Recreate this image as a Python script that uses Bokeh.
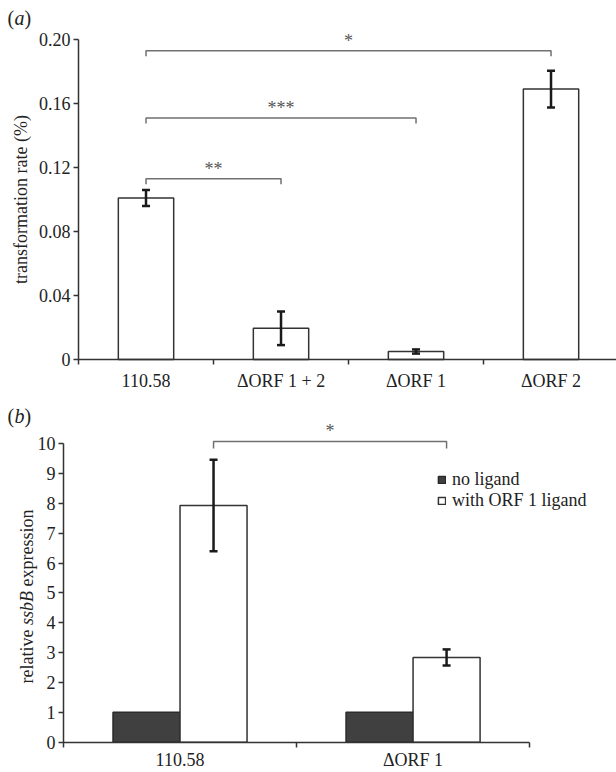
import math
from bokeh.plotting import figure
from bokeh.models import (ColumnDataSource, FixedTicker, Range1d, Whisker, TeeHead,
                          Label, Legend, LegendItem)
from bokeh.layouts import column
from bokeh.embed import file_html
from bokeh.resources import INLINE
from bokeh.core.properties import value

# ---------------- data: panel (a) ----------------
strains_a = ["110.58", "ΔORF 1 + 2", "ΔORF 1", "ΔORF 2"]
rate_a = [0.101, 0.0195, 0.005, 0.169]
err_a = [0.005, 0.0105, 0.0013, 0.0115]
yticks_a = [0, 0.04, 0.08, 0.12, 0.16, 0.20]
ytick_labels_a = ["0", "0.04", "0.08", "0.12", "0.16", "0.20"]
sig_from_a = [0, 0, 0]
sig_to_a = [1, 2, 3]
sig_y_a = [0.113, 0.151, 0.193]
sig_text_a = ["**", "***", "*"]

# ---------------- data: panel (b) ----------------
strains_b = ["110.58", "ΔORF 1"]
no_ligand = [1.0, 1.0]
with_ligand = [7.93, 2.84]
with_ligand_err = [1.535, 0.27]
yticks_b = [0, 1, 2, 3, 4, 5, 6, 7, 8, 9, 10]
series_b = ["no ligand", "with ORF 1 ligand"]
sig_from_b = [0]
sig_to_b = [1]
sig_y_b = [10.08]
sig_text_b = ["*"]

FONT = "Liberation Serif, serif"
TXT = "#222222"
AX = "#333333"
BR = "#707070"


def make_fig(w, h, xr, yr):
    p = figure(width=w, height=h, x_range=Range1d(*xr), y_range=Range1d(*yr),
               output_backend="svg", toolbar_location=None,
               min_border=0, min_border_left=0, min_border_right=0,
               min_border_top=0, min_border_bottom=0)
    p.xgrid.visible = False
    p.ygrid.visible = False
    p.outline_line_color = None
    p.background_fill_color = "white"
    p.border_fill_color = "white"
    for ax in p.axis:
        ax.fixed_location = 0
        ax.axis_line_color = AX
        ax.axis_line_width = 1.5
        ax.major_label_text_font = FONT
        ax.major_label_text_font_size = "18px"
        ax.major_label_text_color = TXT
        ax.axis_label_text_font = FONT
        ax.axis_label_text_font_size = "18px"
        ax.axis_label_text_font_style = "normal"
        ax.axis_label_text_color = TXT
        ax.major_tick_line_color = AX
        ax.major_tick_line_width = 1.5
        ax.minor_tick_line_color = AX
        ax.minor_tick_line_width = 1.5
    return p


def cat_axis(ax, n, labels, standoff, end):
    centers = [i + 0.5 for i in range(n)]
    ax.ticker = FixedTicker(ticks=centers, minor_ticks=list(range(n + 1)))
    ax.major_label_overrides = {c: l for c, l in zip(centers, labels)}
    ax.major_tick_out = 0
    ax.major_tick_in = 0
    ax.minor_tick_out = 5
    ax.minor_tick_in = 0
    ax.major_label_standoff = standoff
    ax.bounds = (0, end)


def val_axis(ax, ticks, labels, top):
    ax.ticker = FixedTicker(ticks=ticks, minor_ticks=[])
    ax.major_label_overrides = {t: l for t, l in zip(ticks, labels)}
    ax.major_tick_out = 5
    ax.major_tick_in = 0
    ax.minor_tick_out = 0
    ax.minor_tick_in = 0
    ax.major_label_standoff = 3
    ax.bounds = (0, top)


def whiskers(p, xs, vals, errs):
    src = ColumnDataSource(dict(base=xs,
                                upper=[v + e for v, e in zip(vals, errs)],
                                lower=[v - e for v, e in zip(vals, errs)]))
    w = Whisker(source=src, base="base", upper="upper", lower="lower",
                line_color="#1a1a1a", line_width=2.5, level="annotation",
                upper_head=TeeHead(size=8, line_color="#1a1a1a", line_width=2.5),
                lower_head=TeeHead(size=8, line_color="#1a1a1a", line_width=2.5))
    p.add_layout(w)


def brackets(p, xs_pos, froms, tos, ys, texts, drop):
    bx, by, tx = [], [], []
    for f, t, h in zip(froms, tos, ys):
        x0, x1 = xs_pos[f], xs_pos[t]
        bx.append([x0, x0, x1, x1])
        by.append([h - drop, h, h, h - drop])
        tx.append((x0 + x1) / 2)
    p.multi_line(bx, by, line_color=BR, line_width=1.5)
    p.text(x=tx, y=ys, text=texts, text_align="center", text_baseline="bottom",
           text_font=value(FONT), text_font_size="18px", text_color="#555555")


def panel_tag(p, x, y, letter):
    p.add_layout(Label(x=x, y=y, text="(", text_font=FONT, text_font_size="20px",
                       text_color=TXT, text_baseline="alphabetic"))
    p.add_layout(Label(x=x, y=y, x_offset=7, text=letter, text_font=FONT,
                       text_font_size="20px", text_font_style="italic",
                       text_color=TXT, text_baseline="alphabetic"))
    p.add_layout(Label(x=x, y=y, x_offset=17, text=")", text_font=FONT,
                       text_font_size="20px", text_color=TXT, text_baseline="alphabetic"))


# ---------------- panel (a) ----------------
XA = (-0.5778, 3.985)
YA = (-0.023125, 0.224375)
fa = make_fig(616, 396, XA, YA)
cat_axis(fa.xaxis[0], len(strains_a), strains_a, 6, XA[1])
val_axis(fa.yaxis[0], yticks_a, ytick_labels_a, yticks_a[-1])
fa.yaxis.axis_label = "transformation rate (%)"
fa.yaxis.axis_label_standoff = 5

centers_a = [i + 0.5 for i in range(len(strains_a))]
fa.vbar(x=centers_a, top=rate_a, width=0.41, fill_color="white",
        line_color=AX, line_width=1.5)
whiskers(fa, centers_a, rate_a, err_a)
brackets(fa, centers_a, sig_from_a, sig_to_a, sig_y_a, sig_text_a, 0.0035)
panel_tag(fa, -0.526, 0.21375, "a")

# ---------------- panel (b) ----------------
XB = (-0.2704, 2.373)
YB = (-1.0154, 11.585)
fb = make_fig(616, 376, XB, YB)
cat_axis(fb.xaxis[0], len(strains_b), strains_b, 3, len(strains_b))
val_axis(fb.yaxis[0], yticks_b, [str(t) for t in yticks_b], yticks_b[-1])

centers_b = [i + 0.5 for i in range(len(strains_b))]
dodge = 0.1438
bw = 0.2876
x_no = [c - dodge for c in centers_b]
x_with = [c + dodge for c in centers_b]
r1 = fb.vbar(x=x_no, top=no_ligand, width=bw, fill_color="#404040",
             line_color="#2b2b2b", line_width=1.5)
r2 = fb.vbar(x=x_with, top=with_ligand, width=bw, fill_color="white",
             line_color=AX, line_width=1.5)
whiskers(fb, x_with, with_ligand, with_ligand_err)
brackets(fb, x_with, sig_from_b, sig_to_b, sig_y_b, sig_text_b, 0.24)
panel_tag(fb, -0.2403, 10.94, "b")

legend = Legend(items=[LegendItem(label=series_b[0], renderers=[r1]),
                       LegendItem(label=series_b[1], renderers=[r2])],
                location=(437, 261), glyph_width=9, glyph_height=9, label_standoff=6,
                spacing=0, padding=0, margin=0, border_line_color=None,
                background_fill_alpha=0, label_text_font=FONT,
                label_text_font_size="18px", label_text_color=TXT)
fb.add_layout(legend)

# y-axis title with italic gene name, drawn as rotated labels
ylab_x = -0.1567
for txt, yy, style in [("relative", 1.967, "normal"), ("ssbB", 3.928, "italic"),
                       ("expression", 5.218, "normal")]:
    fb.add_layout(Label(x=ylab_x, y=yy, text=txt, angle=math.pi / 2, angle_units="rad",
                        text_font=FONT, text_font_size="18px", text_font_style=style,
                        text_color=TXT, text_baseline="alphabetic", text_align="left"))

layout = column(fa, fb, spacing=0)
open("out.html", "w").write(file_html(layout, INLINE))
